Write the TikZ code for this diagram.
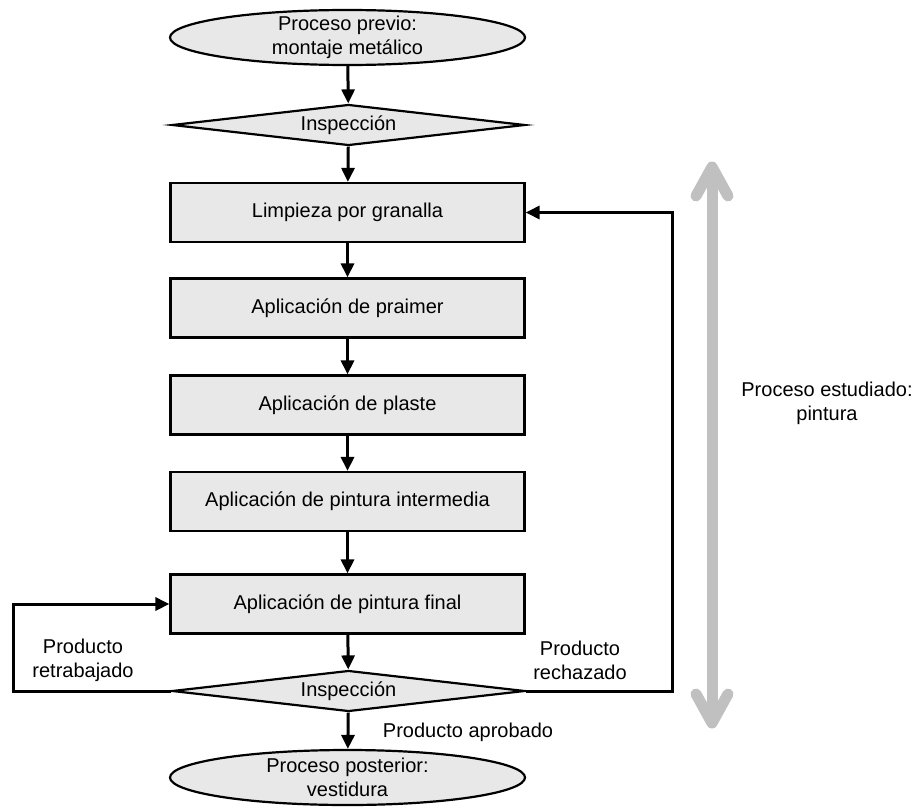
\documentclass[tikz,border=0pt]{standalone}
\usepackage{fontspec}
\setmainfont{Liberation Sans}
\usetikzlibrary{shapes.geometric,arrows.meta}
\definecolor{boxgray}{RGB}{232,232,232}
\definecolor{bargray}{RGB}{192,192,192}
\begin{document}
\begin{tikzpicture}[x=1pt,y=-1pt,
  every node/.style={font=\fontsize{20}{24}\selectfont, align=center},
  procbox/.style={draw, line width=2.2pt, fill=boxgray, minimum width=354pt, minimum height=59pt, inner sep=0pt},
  terminal/.style={ellipse, draw, line width=2.2pt, fill=boxgray, minimum width=355pt, minimum height=55pt, inner sep=-8pt},
  decision/.style={diamond, draw, line width=2.2pt, fill=boxgray, aspect=8.6, minimum width=353pt, minimum height=41pt, inner sep=0pt},
  flow/.style={line width=3pt, -{Triangle[length=14pt,width=13pt]}},
  lbl/.style={inner sep=0pt},
  bigbar/.style={bargray, line width=11pt, line cap=round, line join=round},
]
\useasboundingbox (0,0) rectangle (920,808);

\node[terminal] (start) at (347.5,37.5) {Proceso previo:\\montaje metálico};
\node[decision] (insp1) at (348.5,125) {Inspección};
\node[procbox] (b1) at (347.5,212.5) {Limpieza por granalla};
\node[procbox] (b2) at (347.5,308) {Aplicación de praimer};
\node[procbox] (b3) at (347.5,405) {Aplicación de plaste};
\node[procbox] (b4) at (347.5,501.5) {Aplicación de pintura intermedia};
\node[procbox] (b5) at (347.5,604) {Aplicación de pintura final};
\node[decision] (insp2) at (348.5,691) {Inspección};
\node[terminal] (end) at (347.5,777.5) {Proceso posterior:\\vestidura};

\draw[flow] (start) -- (insp1);
\draw[flow] (insp1) -- (b1);
\draw[flow] (b1) -- (b2);
\draw[flow] (b2) -- (b3);
\draw[flow] (b3) -- (b4);
\draw[flow] (b4) -- (b5);
\draw[flow] (b5) -- (insp2);
\draw[flow] (insp2) -- (end);

\coordinate (lc) at (13,691);
\coordinate (rc) at (672,691);
\draw[flow] (insp2.west) -- (lc) |- (b5.west);
\draw[flow] (insp2.east) -- (rc) |- (b1.east);

\node[lbl] (retr) at (83,660.5) {Producto\\retrabajado};
\node[lbl] (rech) at (580,660.5) {Producto\\rechazado};
\node[lbl] (apro) at (468,732) {Producto aprobado};

\coordinate (gtop) at (712,167);
\coordinate (gbot) at (712,723);
\draw[bargray, line width=11pt] ([yshift=-5pt]gtop) -- ([yshift=5pt]gbot);
\draw[bigbar] ([xshift=-16pt,yshift=-29pt]gtop) -- (gtop) -- ([xshift=16pt,yshift=-29pt]gtop);
\draw[bigbar] ([xshift=-16pt,yshift=29pt]gbot) -- (gbot) -- ([xshift=16pt,yshift=29pt]gbot);
\node[lbl] (studied) at (827,403.5) {Proceso estudiado:\\pintura};
\end{tikzpicture}
\end{document}
